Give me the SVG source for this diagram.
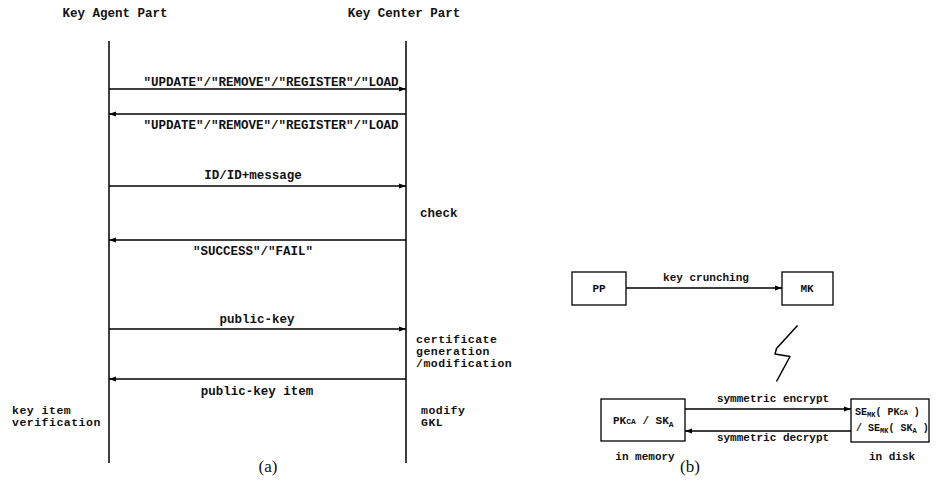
<svg xmlns="http://www.w3.org/2000/svg" width="937" height="497" viewBox="0 0 937 497">
<defs>
<marker id="ah" markerWidth="8" markerHeight="6" refX="7" refY="3" orient="auto" markerUnits="userSpaceOnUse">
<path d="M0,0.5 L7,3 L0,5.5 z" fill="#000"/>
</marker>
<style>
.t{font-family:"Liberation Mono","Courier New",monospace;font-weight:bold;font-size:12.5px;fill:#111}
.m{font-family:"Liberation Mono","Courier New",monospace;font-weight:bold;font-size:11.5px;letter-spacing:0.5px;fill:#111}
.s{font-family:"Liberation Mono","Courier New",monospace;font-weight:bold;font-size:11px;fill:#111}
.d{font-family:"Liberation Mono","Courier New",monospace;font-weight:bold;font-size:10px;fill:#111}
.c{text-anchor:middle}
.cap{font-family:"Liberation Serif","Times New Roman",serif;font-size:17px;fill:#111;text-anchor:middle}
.ln{stroke:#000;stroke-width:1.5;fill:none}
.msg{stroke:#000;stroke-width:1.5;fill:none;marker-end:url(#ah)}
.box{stroke:#000;stroke-width:1.3;fill:#fff}
</style>
</defs>
<rect width="937" height="497" fill="#fff"/>

<!-- Part (a) -->
<g id="agent">
<text class="t c" x="115" y="17">Key Agent Part</text>
<line class="ln" x1="109" y1="41" x2="109" y2="463"/>
</g>
<g id="center">
<text class="t c" x="404" y="17">Key Center Part</text>
<line class="ln" x1="406" y1="41" x2="406" y2="463"/>
</g>

<g id="connectors">
<line class="msg" x1="109" y1="89" x2="406" y2="89"/>
<line class="msg" x1="406" y1="114" x2="109" y2="114"/>
<line class="msg" x1="109" y1="186" x2="406" y2="186"/>
<line class="msg" x1="406" y1="240" x2="109" y2="240"/>
<line class="msg" x1="109" y1="329" x2="406" y2="329"/>
<line class="msg" x1="406" y1="379" x2="109" y2="379"/>
<line class="msg" x1="626" y1="288" x2="782" y2="288"/>
<line class="msg" x1="685" y1="409" x2="851" y2="409"/>
<line class="msg" x1="851" y1="431" x2="685" y2="431"/>
<polyline class="ln" stroke-width="1.4" stroke-linejoin="round" points="797.5,325.5 776.5,348.5 775,354 790,356.5 776.5,381.5"/>
</g>

<g id="labels-a">
<text class="t c" x="271" y="86">"UPDATE"/"REMOVE"/"REGISTER"/"LOAD</text>
<text class="t c" x="271" y="129">"UPDATE"/"REMOVE"/"REGISTER"/"LOAD</text>
<text class="t c" x="253" y="179">ID/ID+message</text>
<text class="t" x="420" y="217">check</text>
<text class="t c" x="253" y="255">"SUCCESS"/"FAIL"</text>
<text class="t c" x="257" y="323">public-key</text>
<text class="m" x="416" y="343">certificate</text>
<text class="m" x="416" y="355">generation</text>
<text class="m" x="416" y="367">/modification</text>
<text class="t c" x="257" y="395">public-key item</text>
<text class="m" x="12" y="414">key item</text>
<text class="m" x="12" y="426">verification</text>
<text class="m" x="421" y="414">modify</text>
<text class="m" x="421" y="426">GKL</text>
<text class="cap" x="268" y="472">(a)</text>
</g>

<!-- Part (b) -->
<g id="pp">
<rect class="box" x="572" y="272" width="54" height="33"/>
<text class="s c" x="599" y="292">PP</text>
</g>
<g id="mk">
<rect class="box" x="782" y="272" width="51" height="33"/>
<text class="s c" x="807" y="292">MK</text>
</g>
<text class="s c" x="706" y="281">key crunching</text>

<g id="mem">
<rect class="box" x="601" y="399" width="84" height="42"/>
<text class="s" x="613" y="424">PK<tspan font-size="8">CA</tspan> / SK<tspan font-size="8" dy="3">A</tspan></text>
</g>
<g id="disk">
<rect class="box" x="851" y="399" width="78" height="43"/>
<text class="d" x="855" y="415">SE<tspan font-size="7" dy="2">MK</tspan><tspan dy="-2">( PK</tspan><tspan font-size="7">CA</tspan> )</text>
<text class="d" x="856" y="431">/ SE<tspan font-size="7" dy="2">MK</tspan><tspan dy="-2">( SK</tspan><tspan font-size="7" dy="2">A</tspan><tspan dy="-2"> )</tspan></text>
</g>
<text class="s c" x="773" y="402">symmetric encrypt</text>
<text class="s c" x="773" y="441">symmetric decrypt</text>
<text class="s c" x="645" y="460">in memory</text>
<text class="s c" x="892" y="460">in disk</text>
<text class="cap" x="690" y="472">(b)</text>
</svg>
